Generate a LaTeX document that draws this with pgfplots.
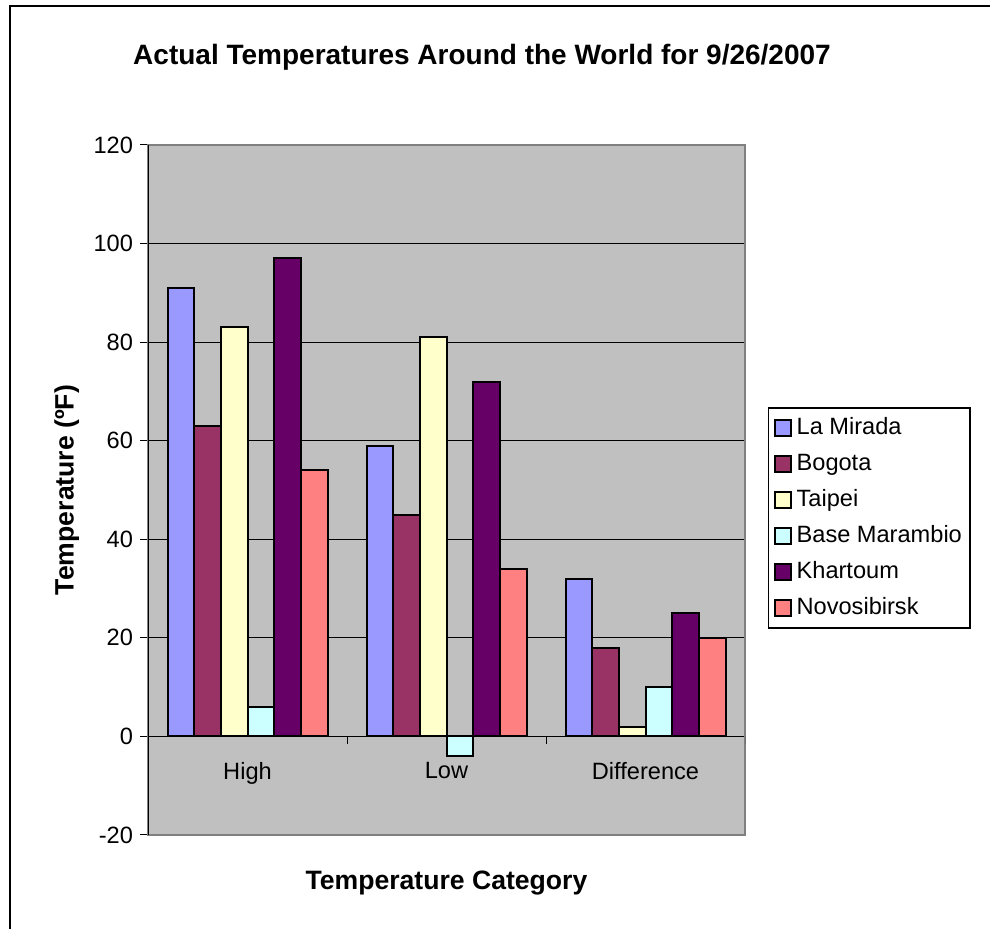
\documentclass[border=0pt]{standalone}
\usepackage{fontspec}
\setmainfont{Liberation Sans}
\usepackage{pgfplots}
\usepackage{pgfplotstable}
\pgfplotsset{compat=1.18}

\definecolor{cMir}{HTML}{9999FF}
\definecolor{cBog}{HTML}{993366}
\definecolor{cTai}{HTML}{FFFFCC}
\definecolor{cBas}{HTML}{CCFFFF}
\definecolor{cKha}{HTML}{660066}
\definecolor{cNov}{HTML}{FF8080}
\definecolor{plotgray}{HTML}{C0C0C0}
\definecolor{bordergray}{HTML}{808080}

% rows: 0 = High, 1 = Low, 2 = Difference
\pgfplotstableread{
x Mirada Bogota Taipei Marambio Khartoum Novosibirsk
0 91 63 83  6 97 54
1 59 45 81 -4 72 34
2 32 18  2 10 25 20
}\temps

\begin{document}
\begin{tikzpicture}
\path[use as bounding box] (0,0) rectangle (495pt,464.5pt);
\draw[line width=0.75pt] (5pt,-5pt) -- (5pt,461.5pt) -- (500pt,461.5pt);
\begin{axis}[
  at={(74pt,47pt)}, anchor=south west,
  width=298.5pt, height=345pt, scale only axis,
  xmin=-0.5, xmax=2.5,
  ymin=-20, ymax=120,
  ytick={-20,0,...,120},
  xtick={0,1,2},
  xticklabels={High,Low,Difference},
  xtick style={draw=none},
  ytick pos=left,
  ytick style={draw=black, line width=0.5pt},
  tick align=outside,
  major tick length=4pt,
  ymajorgrids,
  grid style={black, line width=0.5pt},
  axis background/.style={fill=plotgray},
  axis line style={draw=bordergray, line width=1pt},
  /pgf/number format/assume math mode=true,
  tick label style={font=\fontsize{11.8}{13}\selectfont},
  xticklabel style={yshift=44pt},
  title={Actual Temperatures Around the World for 9/26/2007},
  every axis title shift=0pt,
  title style={font=\fontsize{14}{16}\selectfont\bfseries,
    at={(axis description cs:0.5595,1.1275)}, anchor=center},
  xlabel={Temperature Category},
  xlabel style={font=\fontsize{13.3}{15}\selectfont\bfseries,
    at={(axis description cs:0.5,-0.069)}, anchor=center},
  ylabel={Temperature (ºF)},
  ylabel style={font=\fontsize{13.3}{15}\selectfont\bfseries,
    at={(axis description cs:-0.136,0.5)}, anchor=center},
  ybar, bar width=0.134,
  every axis plot/.append style={draw=black, line width=1pt},
  legend style={at={(axis description cs:1.0385,0.62)}, anchor=north west,
    draw=black, line width=0.75pt, fill=white,
    font=\fontsize{11.8}{13}\selectfont,
    row sep=3.5pt, inner xsep=2.5pt, inner ysep=2.8pt,
    nodes={inner sep=1.5pt, text height=9pt, text depth=2.5pt}},
  legend cell align=left,
  legend image code/.code={%
    \path[draw=none, fill=none] (0pt,-4pt) rectangle (9.5pt,4pt);
    \draw[#1, line width=0.9pt] (0pt,-4pt) rectangle (8pt,4pt);},
]
\addplot[fill=cMir, bar shift=-0.335] table[x=x, y=Mirada] {\temps};
\addplot[fill=cBog, bar shift=-0.201] table[x=x, y=Bogota] {\temps};
\addplot[fill=cTai, bar shift=-0.067] table[x=x, y=Taipei] {\temps};
\addplot[fill=cBas, bar shift=0.067] table[x=x, y=Marambio] {\temps};
\addplot[fill=cKha, bar shift=0.201] table[x=x, y=Khartoum] {\temps};
\addplot[fill=cNov, bar shift=0.335] table[x=x, y=Novosibirsk] {\temps};
\legend{La Mirada,Bogota,Taipei,Base Marambio,Khartoum,Novosibirsk}
% category separators hanging from the zero line, and the black value axis
\draw[black, line width=0.5pt] (axis cs:0.5,0) -- ++(0pt,-4pt);
\draw[black, line width=0.5pt] (axis cs:1.5,0) -- ++(0pt,-4pt);
\draw[black, line width=0.5pt] (axis cs:2.5,0) -- ++(0pt,-4pt);
\draw[black, line width=0.75pt] (rel axis cs:0,0) -- (rel axis cs:0,1);
\end{axis}
\end{tikzpicture}
\end{document}
